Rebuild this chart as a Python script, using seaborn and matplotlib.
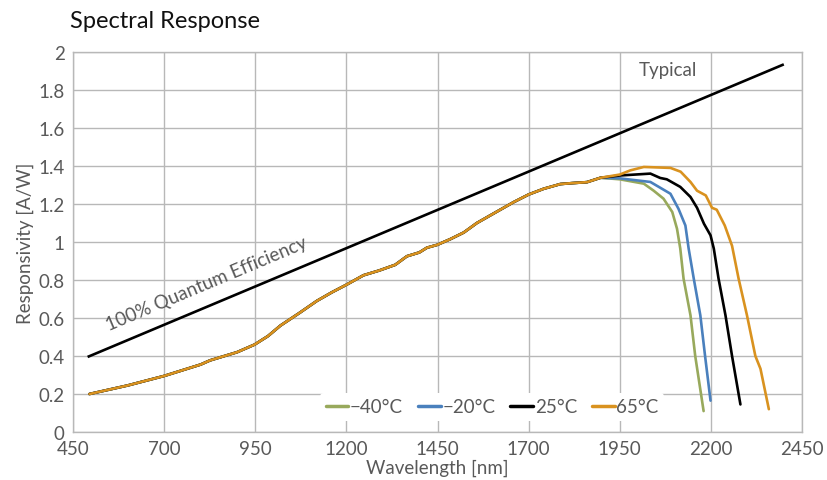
import numpy as np
import pandas as pd
import matplotlib
matplotlib.use("Agg")
import matplotlib.pyplot as plt
import seaborn as sns

# Shared part of the responsivity curve (all temperatures coincide here)
common_wl = [495, 600, 700, 800, 826, 900, 948, 985, 1019, 1070, 1119, 1160,
             1200, 1247, 1290, 1334, 1366, 1400, 1421, 1449, 1485, 1522, 1558,
             1613, 1659, 1700, 1741, 1787, 1820, 1860, 1897]
common_resp = [0.200, 0.245, 0.295, 0.355, 0.377, 0.420, 0.460, 0.505, 0.560,
               0.625, 0.690, 0.735, 0.775, 0.825, 0.850, 0.880, 0.925, 0.945,
               0.970, 0.985, 1.015, 1.050, 1.100, 1.160, 1.210, 1.250, 1.280,
               1.305, 1.310, 1.315, 1.338]

# Long-wavelength cut-off for each temperature
m40_wl = [1950, 2016, 2043, 2070, 2094, 2107, 2116, 2125, 2144, 2157, 2180]
m40_resp = [1.330, 1.307, 1.270, 1.228, 1.158, 1.070, 0.965, 0.807, 0.614,
            0.400, 0.110]
m20_wl = [1950, 2034, 2066, 2089, 2111, 2130, 2139, 2153, 2171, 2184, 2199]
m20_resp = [1.335, 1.316, 1.280, 1.254, 1.175, 1.087, 0.965, 0.807, 0.614,
            0.400, 0.165]
p25_wl = [1950, 2034, 2061, 2079, 2116, 2144, 2162, 2181, 2199, 2208, 2221,
          2240, 2258, 2281]
p25_resp = [1.350, 1.360, 1.337, 1.330, 1.290, 1.237, 1.180, 1.096, 1.035,
            0.965, 0.807, 0.614, 0.400, 0.145]
p65_wl = [1950, 1979, 2016, 2089, 2117, 2144, 2162, 2186, 2203, 2216, 2238,
          2258, 2276, 2299, 2322, 2336, 2359]
p65_resp = [1.355, 1.377, 1.395, 1.390, 1.370, 1.316, 1.270, 1.245, 1.180,
            1.170, 1.087, 0.980, 0.807, 0.614, 0.400, 0.333, 0.120]

series_labels = ["\u221240\u00b0C", "\u221220\u00b0C", "25\u00b0C", "65\u00b0C"]
series_colors = ["#98a95c", "#4a80bd", "#000000", "#d9921f"]
tails = [(m40_wl, m40_resp), (m20_wl, m20_resp), (p25_wl, p25_resp), (p65_wl, p65_resp)]

# Ideal 100 % quantum efficiency line
qe_wl = [490, 2400]
qe_resp = [0.395, 1.935]

x_ticks = [450, 700, 950, 1200, 1450, 1700, 1950, 2200, 2450]
y_ticks = [0, 0.2, 0.4, 0.6, 0.8, 1.0, 1.2, 1.4, 1.6, 1.8, 2.0]
y_tick_labels = ["0", "0.2", "0.4", "0.6", "0.8", "1", "1.2", "1.4", "1.6", "1.8", "2"]

frames = []
for label, (wl, resp) in zip(series_labels, tails):
    frames.append(pd.DataFrame({
        "Wavelength": common_wl + wl,
        "Responsivity": common_resp + resp,
        "Temperature": label,
    }))
df = pd.concat(frames, ignore_index=True)

sns.set_style("white")
plt.rcParams["font.family"] = ["Lato", "DejaVu Sans"]

grey_text = "#595959"
grid_col = "#b8b8b8"
fs = 13.5

fig = plt.figure(figsize=(8.27, 4.81), dpi=100)
ax = fig.add_axes([0.0883, 0.0998, 0.8815, 0.79])

ax.plot(qe_wl, qe_resp, color="black", lw=1.9, solid_capstyle="butt", zorder=3)

sns.lineplot(data=df, x="Wavelength", y="Responsivity", hue="Temperature",
             hue_order=series_labels, palette=dict(zip(series_labels, series_colors)),
             estimator=None, sort=False, lw=1.9, ax=ax, zorder=4)

ax.set_xlim(450, 2450)
ax.set_ylim(0, 2)
ax.set_xticks(x_ticks)
ax.set_yticks(y_ticks)
ax.set_yticklabels(y_tick_labels)
ax.grid(True, color=grid_col, lw=1.0)
ax.set_axisbelow(True)
for s in ax.spines.values():
    s.set_color(grid_col)
    s.set_linewidth(1.0)
ax.tick_params(axis="both", colors=grid_col, labelcolor=grey_text, labelsize=fs,
               length=5, width=1.0, direction="out", pad=1)

ax.set_xlabel("Wavelength [nm]", color=grey_text, fontsize=fs, labelpad=1)
ax.set_ylabel("Responsivity [A/W]", color=grey_text, fontsize=fs, labelpad=3)

fig.text(0.085, 0.955, "Spectral Response", fontsize=17, color="#111111",
         ha="left", va="center")

ax.text(2083, 1.91, "Typical", color=grey_text, fontsize=fs, ha="center", va="center")

ax.text(547, 0.535, "100% Quantum Efficiency", color=grey_text, fontsize=fs,
        ha="left", va="baseline", rotation=np.degrees(np.arctan(1 / 1239.8)),
        rotation_mode="anchor", transform_rotates_text=True)

leg = ax.legend(loc="center", bbox_to_anchor=(0.575, 0.066), ncol=4, frameon=True,
                framealpha=1, facecolor="white", edgecolor="none", fontsize=fs,
                handlelength=1.2, handletextpad=0.1, columnspacing=0.8,
                borderpad=0.3, title=None)
for t in leg.get_texts():
    t.set_color(grey_text)
for h in leg.get_lines():
    h.set_linewidth(2.5)
leg.set_zorder(5)

fig.savefig("out.png", dpi=100)
